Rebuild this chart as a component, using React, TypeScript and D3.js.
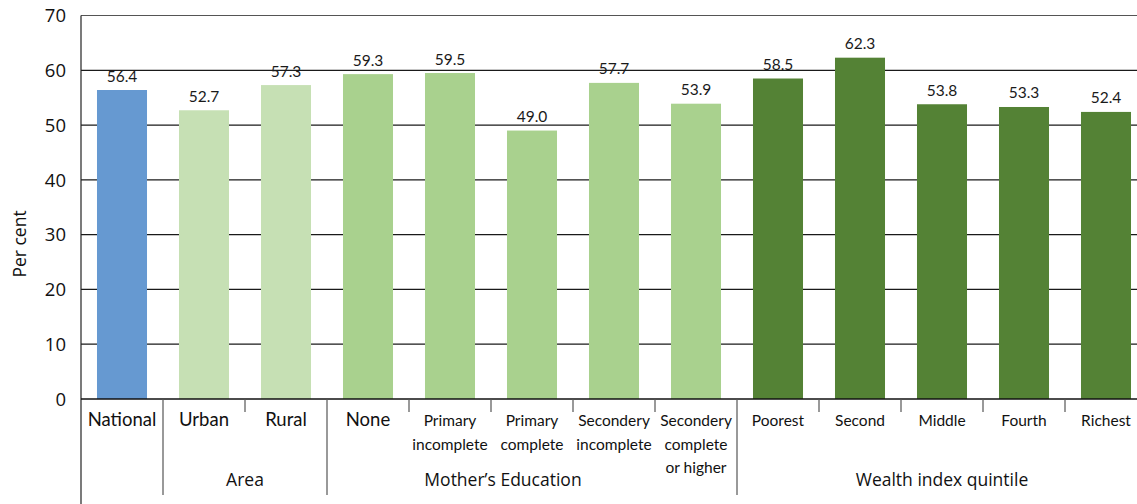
import React from "react";
import * as d3 from "d3";

const categories = [
  "National",
  "Urban",
  "Rural",
  "None",
  "Primary incomplete",
  "Primary complete",
  "Secondery incomplete",
  "Secondery complete or higher",
  "Poorest",
  "Second",
  "Middle",
  "Fourth",
  "Richest",
];
const categoryLines = [
  ["National"],
  ["Urban"],
  ["Rural"],
  ["None"],
  ["Primary", "incomplete"],
  ["Primary", "complete"],
  ["Secondery", "incomplete"],
  ["Secondery", "complete", "or higher"],
  ["Poorest"],
  ["Second"],
  ["Middle"],
  ["Fourth"],
  ["Richest"],
];
const values = [56.4, 52.7, 57.3, 59.3, 59.5, 49.0, 57.7, 53.9, 58.5, 62.3, 53.8, 53.3, 52.4];
const groupOf = ["National", "Area", "Area", "Edu", "Edu", "Edu", "Edu", "Edu", "Wealth", "Wealth", "Wealth", "Wealth", "Wealth"];
const groups = [
  { key: "Area", label: "Area", from: 1, to: 2 },
  { key: "Edu", label: "Mother\u2019s Education", from: 3, to: 7 },
  { key: "Wealth", label: "Wealth index quintile", from: 8, to: 12 },
];
const yTicks = [0, 10, 20, 30, 40, 50, 60, 70];
const colors: Record<string, string> = {
  National: "#6699D1",
  Area: "#C6E0B4",
  Edu: "#A9D18E",
  Wealth: "#548235",
};

const W = 1137;
const H = 504;
const left = 81;
const right = 1147;
const top = 15.5;
const bottom = 399;

export default function App() {
  const x = d3.scaleBand<string>().domain(categories).range([left, right]).paddingInner(0.39).paddingOuter(0.195);
  const y = d3.scaleLinear().domain([0, 70]).range([bottom, top]);
  const step = x.step();
  const font = "Lato, 'Open Sans', sans-serif";
  const boundary = (i: number) => left + i * step;
  const longBounds = [1, 3, 8];
  const shortBounds = [2, 4, 5, 6, 7, 9, 10, 11, 12];

  return (
    <svg width={W} height={H} style={{ position: "absolute", left: 0, top: 0, background: "#fff" }}>
      {yTicks.map((t) => (
        <g key={t}>
          {t > 0 && (
            <line x1={left} x2={W} y1={y(t)} y2={y(t)} stroke={t === 70 ? "#555" : "#1a1a1a"} strokeWidth={1.2} />
          )}
          <text x={66} y={y(t)} dy="0.36em" textAnchor="end" fontFamily="'Open Sans', sans-serif" fontSize={18.5} fill="#111">
            {t}
          </text>
        </g>
      ))}
      {categories.map((c, i) => (
        <g key={c}>
          <rect x={x(c)} y={y(values[i])} width={x.bandwidth()} height={y(0) - y(values[i])} fill={colors[groupOf[i]]} />
          <text
            x={(x(c) as number) + x.bandwidth() / 2}
            y={y(values[i]) - 8.5}
            textAnchor="middle"
            fontFamily={font}
            fontSize={15.5}
            fill="#1a1a1a"
          >
            {values[i].toFixed(1)}
          </text>
          {categoryLines[i].map((ln, j) => (
            <text
              key={j}
              x={(x(c) as number) + x.bandwidth() / 2}
              y={426 + j * 23.5}
              textAnchor="middle"
              fontFamily={font}
              fontSize={i <= 3 ? 18.5 : 15.5}
              fill="#111"
            >
              {ln}
            </text>
          ))}
        </g>
      ))}
      {/* axes */}
      <line x1={left} x2={left} y1={top} y2={H} stroke="#222" strokeWidth={1.2} />
      <line x1={left} x2={W} y1={bottom} y2={bottom} stroke="#111" strokeWidth={1.5} />
      {longBounds.map((b) => (
        <line key={"l" + b} x1={boundary(b)} x2={boundary(b)} y1={bottom} y2={495} stroke="#555" strokeWidth={1.2} />
      ))}
      {shortBounds.map((b) => (
        <line key={"s" + b} x1={boundary(b)} x2={boundary(b)} y1={bottom} y2={412} stroke="#555" strokeWidth={1.2} />
      ))}
      {groups.map((g) => {
        const cx = g.key === "Edu" ? 503 : (boundary(g.from) + boundary(g.to + 1)) / 2;
        return (
          <text key={g.key} x={cx} y={486} textAnchor="middle" fontFamily="'Open Sans', sans-serif" fontSize={17.5} fill="#111">
            {g.label}
          </text>
        );
      })}
      <text
        transform={`translate(26, 244) rotate(-90)`}
        textAnchor="middle"
        fontFamily="'Open Sans', sans-serif"
        fontSize={17.5}
        fill="#111"
      >
        Per cent
      </text>
    </svg>
  );
}
